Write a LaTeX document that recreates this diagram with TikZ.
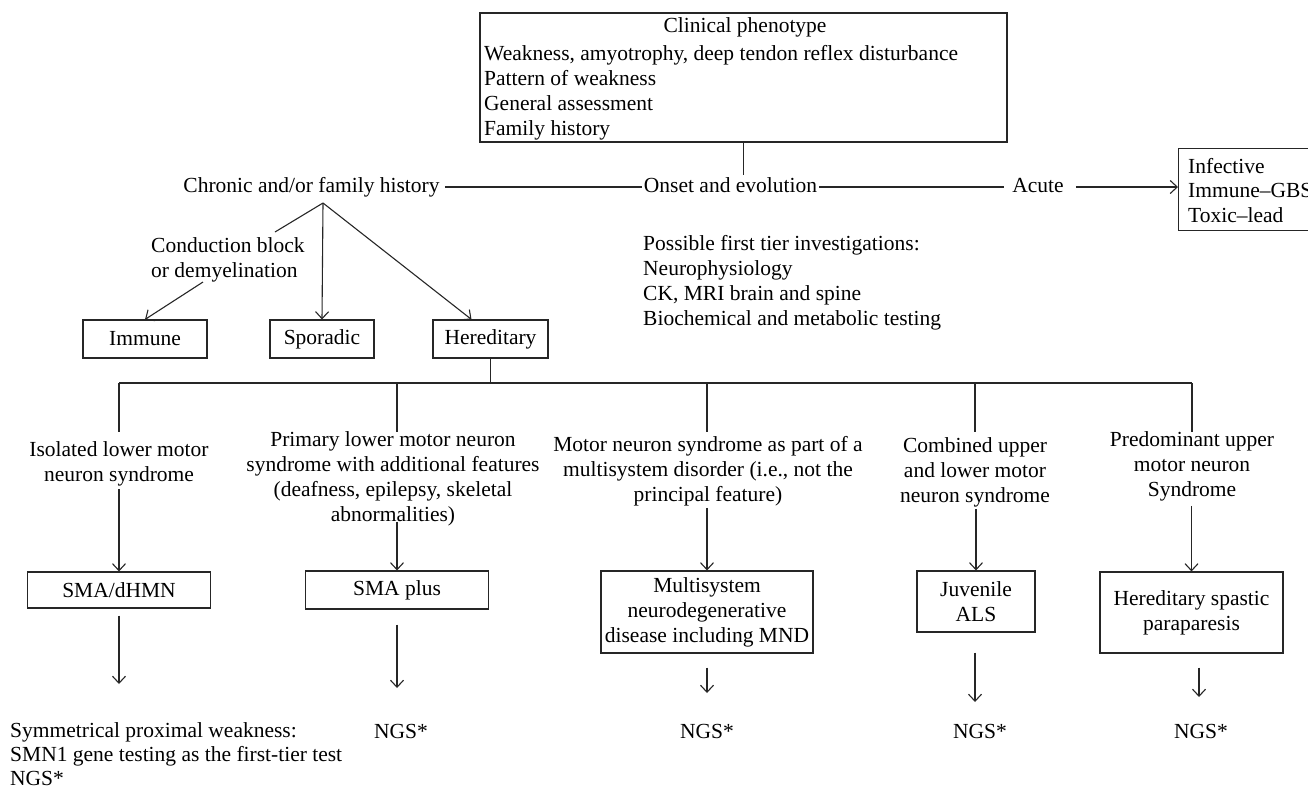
\documentclass[tikz,border=0pt]{standalone}
\usepackage{fontspec}
\setmainfont{Liberation Serif}
\usetikzlibrary{arrows.meta,calc}
\begin{document}
\begin{tikzpicture}[x=1pt,y=-1pt,
  font=\fontsize{21.5}{25}\selectfont,
  ln/.style={line width=1.1pt, draw=black!85},
  arr/.style={ln, -{Straight Barb[length=7pt,width=13pt,line width=1.1pt]}},
  txt/.style={inner sep=0pt, anchor=base, text height=14pt, text depth=4pt},
  ltxt/.style={inner sep=0pt, anchor=base west, align=left},
  mtxt/.style={inner sep=0pt, anchor=base, align=center},
  box/.style={draw=black!85, line width=1.1pt, inner sep=0pt, align=center}]
\useasboundingbox (0,0) rectangle (1308,788);

% top box
\node[box, minimum width=527pt, minimum height=129pt] (clin) at (743.5,77.5) {};
\node[inner sep=0pt, anchor=base] (clinT) at (745,32) {Clinical phenotype};
\node[ltxt] (clin1) at (484,60) {Weakness, amyotrophy, deep tendon reflex disturbance};
\node[ltxt] (clin2) at (484,85) {Pattern of weakness};
\node[ltxt] (clin3) at (484,110) {General assessment};
\node[ltxt] (clin4) at (484,135) {Family history};

% onset row
\node[txt] (chronic) at (311.5,192) {Chronic and/or family history};
\node[txt] (onset) at (730.5,192) {Onset and evolution};
\node[txt] (acute) at (1038,192) {Acute};
\node[box, minimum width=170pt, minimum height=82pt, anchor=north west] (acutebox) at (1178,148) {};
\node[ltxt] (inf) at (1188,173) {Infective};
\node[ltxt] (gbs) at (1188,197) {Immune–GBS};
\node[ltxt] (tox) at (1188,222) {Toxic–lead};

\draw[ln] (clin.south) -- ($(clin.south |- onset.north)+(0,-3)$);
\draw[ln, shorten <=5pt, shorten >=2pt] (chronic.east) -- (onset.west);
\draw[ln, shorten <=2pt, shorten >=8pt] (onset.east) -- (acute.west);
\draw[arr, shorten <=12pt] (acute.east) -- (acute.east -| acutebox.west);

% investigations (anchor = baseline of last line)
\node[ltxt] (inv) at (643,325) {Possible first tier investigations:\\Neurophysiology\\CK, MRI brain and spine\\Biochemical and metabolic testing};

% chronic branches
\coordinate (bp) at (323,203);
\coordinate (c1) at (275,232);
\coordinate (c2) at (203,282);
\node[ltxt] (cond) at (151,277) {Conduction block\\or demyelination};
\node[box, minimum width=124pt, minimum height=38pt] (immune) at (145,339) {Immune};
\node[box, minimum width=104pt, minimum height=38pt] (sporadic) at (322,339) {Sporadic};
\node[box, minimum width=115pt, minimum height=38pt] (hered) at (490.5,339) {Hereditary};
\draw[ln] (bp) -- (c1);
\draw[arr] (c2) -- (immune.north);
\draw[arr] (bp) -- (sporadic.north);
\draw[arr] (bp) -- ([xshift=-19pt]hered.north);

% level-2 boxes
\node[box, minimum width=183pt, minimum height=36pt] (sma) at (119,590) {SMA/dHMN};
\node[box, minimum width=183pt, minimum height=38pt] (smaplus) at (397,590) {SMA plus};
\node[box, minimum width=212pt, minimum height=82pt] (mnd) at (707,612) {Multisystem\\neurodegenerative\\disease including MND};
\node[box, minimum width=118pt, minimum height=61pt] (juv) at (976,601.5) {Juvenile\\ALS};
\node[box, minimum width=183pt, minimum height=81pt] (hsp) at (1191.5,612.5) {Hereditary spastic\\paraparesis};

% bus
\coordinate (b1) at (119,383);
\coordinate (b2) at (397,383);
\coordinate (b3) at (707,383);
\coordinate (b4) at (975,383);
\coordinate (b5) at (1192,383);
\draw[ln] (hered.south) -- (hered.south |- b1);
\draw[ln] (b1) -- (b5);
\foreach \b in {b1,b2,b3,b4,b5} \draw[ln] (\b) -- ++(0,49);

% categories (anchor = baseline of last line)
\node[mtxt] (iso) at (119,481) {Isolated lower motor\\neuron syndrome};
\node[mtxt] (prim) at (393,521) {Primary lower motor neuron\\syndrome with additional features\\(deafness, epilepsy, skeletal\\abnormalities)};
\node[mtxt] (mns) at (708,501) {Motor neuron syndrome as part of a\\multisystem disorder (i.e., not the\\principal feature)};
\node[mtxt] (comb) at (975,502) {Combined upper\\and lower motor\\neuron syndrome};
\node[mtxt] (pred) at (1192,496) {Predominant upper\\motor neuron\\Syndrome};

\draw[arr, shorten <=3pt] (iso.south -| sma.north) -- (sma.north);
\draw[arr, shorten <=-4pt] (prim.south -| smaplus.north) -- (smaplus.north);
\draw[arr, shorten <=2pt] (mns.south -| mnd.north) -- (mnd.north);
\draw[arr, shorten <=2pt] (comb.south -| juv.north) -- (juv.north);
\draw[arr, shorten <=5pt] (pred.south -| hsp.north) -- (hsp.north);

% bottom
\coordinate (e1) at (119,684);
\coordinate (e2) at (397,688);
\coordinate (e3) at (707,693);
\coordinate (e4) at (975,702);
\coordinate (e5) at (1199,697);
\draw[arr, shorten <=7pt] (sma.south) -- (e1);
\draw[arr, shorten <=15pt] (smaplus.south) -- (e2);
\draw[arr, shorten <=14pt] (mnd.south) -- (e3);
\draw[arr, line width=1.8pt, shorten <=20pt] (juv.south -| e4) -- (e4);
\draw[arr, shorten <=14pt] (hsp.south -| e5) -- (e5);

\node[ltxt, font=\fontsize{21.5}{24}\selectfont] (symm) at (10,785) {Symmetrical proximal weakness:\\SMN1 gene testing as the first-tier test\\NGS*};
\node[inner sep=0pt, anchor=base] (ngs2) at (401,738) {NGS*};
\node[inner sep=0pt, anchor=base] (ngs3) at (707,738) {NGS*};
\node[inner sep=0pt, anchor=base] (ngs4) at (980,738) {NGS*};
\node[inner sep=0pt, anchor=base] (ngs5) at (1201,738) {NGS*};
\end{tikzpicture}
\end{document}
